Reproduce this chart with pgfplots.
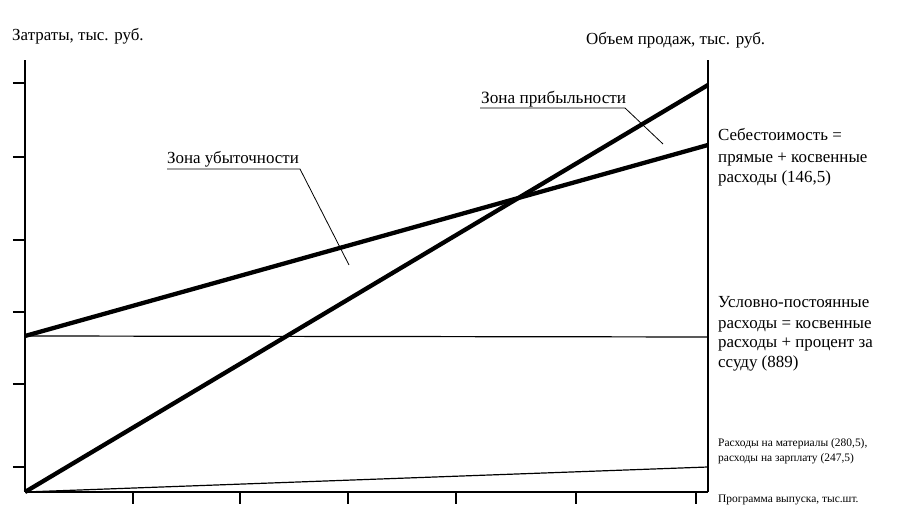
\documentclass[border=0pt]{standalone}
\usepackage{fontspec}
\setmainfont{Liberation Serif}
\usepackage{pgfplots}
\pgfplotsset{compat=1.18}
\begin{document}
\begin{tikzpicture}[x=1bp,y=1bp]
\path[use as bounding box] (0,0) rectangle (913,529);
\begin{axis}[
  at={(25bp,37bp)}, anchor=south west,
  scale only axis, width=683bp, height=432bp,
  xmin=0, xmax=683, ymin=0, ymax=432,
  axis x line=bottom, axis y line=left,
  axis line style={-, line width=1.3bp},
  xtick={108,215,323,431,551,671},
  ytick={25,108,180,252,335,409},
  xticklabels={}, yticklabels={},
  tick align=outside, major tick length=12bp,
  tick style={line width=1.3bp, black},
  clip=false,
]
% revenue
\addplot[black, line width=4.3bp] coordinates {(0,0) (683,407)};
% total cost
\addplot[black, line width=4.3bp] coordinates {(0,156) (683,347)};
% fixed cost
\addplot[black, line width=1.2bp] coordinates {(0,156) (683,155)};
% materials + wages
\addplot[black, line width=1.2bp] coordinates {(0,0) (683,25)};
% right axis
\draw[line width=1.3bp] (axis cs:683,0) -- (axis cs:683,432);
\end{axis}
% callouts
\draw[line width=0.8bp] (480,421) -- (625,421) -- (663,385);
\node[anchor=base west, inner sep=0pt, font=\fontsize{17.3}{19}\selectfont] at (481,425) {Зона прибыльности};
\draw[line width=0.8bp] (167,360) -- (300,360) -- (349,264);
\node[anchor=base west, inner sep=0pt, font=\fontsize{17}{19}\selectfont] at (167,365) {Зона убыточности};
% axis titles
\node[anchor=base west, inner sep=0pt, font=\fontsize{17}{19}\selectfont] at (12,488) {Затраты, тыс. руб.};
\node[anchor=base west, inner sep=0pt, font=\fontsize{17}{19}\selectfont] at (586,484) {Объем продаж, тыс. руб.};
% right labels
\begin{scope}[every node/.style={anchor=base west, inner sep=0pt, font=\fontsize{17}{19}\selectfont}]
\node at (718,388) {Себестоимость =};
\node at (718,366) {прямые + косвенные};
\node at (718,346) {расходы (146,5)};
\node at (718,221) {Условно-постоянные};
\node at (718,200) {расходы = косвенные};
\node at (718,181) {расходы + процент за};
\node at (718,161) {ссуду (889)};
\end{scope}
\begin{scope}[every node/.style={anchor=base west, inner sep=0pt, font=\fontsize{11.5}{13}\selectfont}]
\node at (718,82) {Расходы на материалы (280,5),};
\node at (718,67) {расходы на зарплату (247,5)};
\node at (718,26) {Программа выпуска, тыс.шт.};
\end{scope}
\end{tikzpicture}
\end{document}
